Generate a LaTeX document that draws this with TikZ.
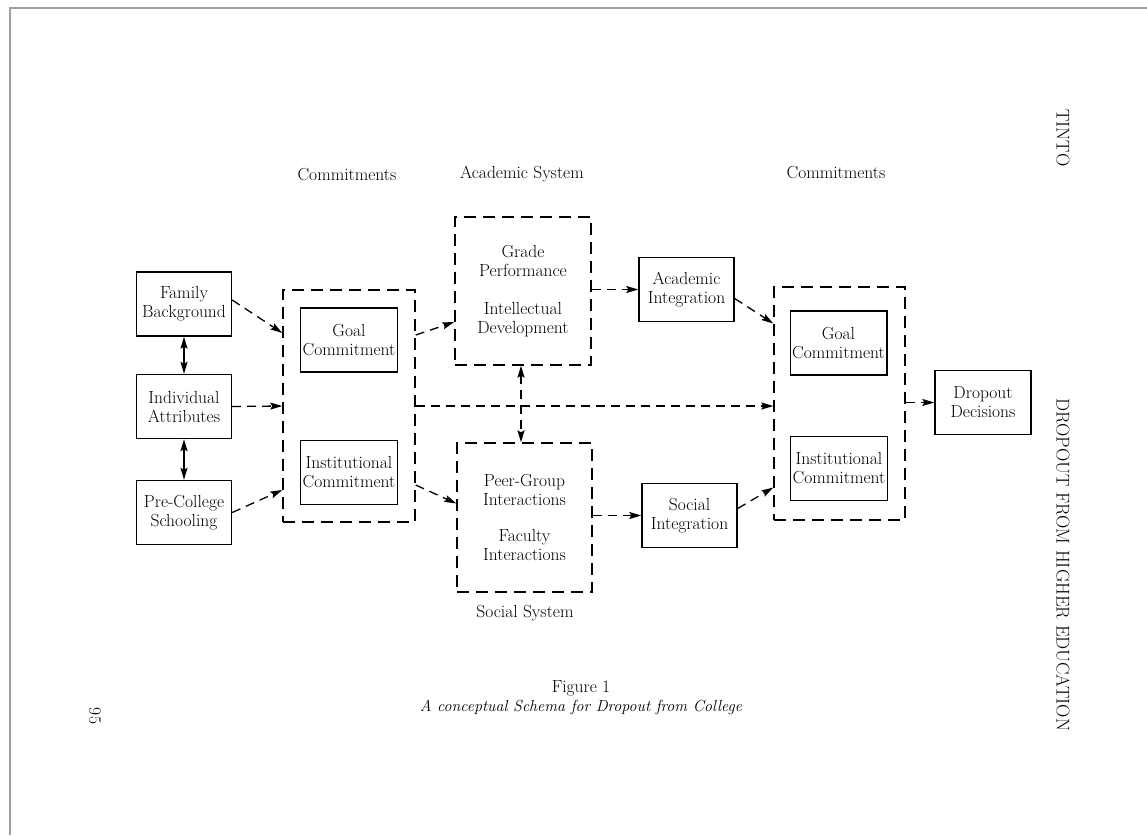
\documentclass[tikz,border=0pt]{standalone}
\usepackage{tikz}
\usetikzlibrary{arrows.meta}

\begin{document}
\begin{tikzpicture}[x=1pt,y=-1pt,
    >={Stealth[length=12pt,width=7pt,inset=2pt]},
    font=\fontsize{17.5}{19}\selectfont,
    box/.style={draw,line width=1.4pt,align=center,inner sep=2pt,
        minimum width=95pt,minimum height=64pt},
    dbox/.style={draw,line width=1.4pt,dash pattern=on 12pt off 7pt},
    darr/.style={->,line width=1.3pt,dash pattern=on 9pt off 6pt},
    sarr/.style={<->,line width=1.3pt}]
    \useasboundingbox (0,0) rectangle (1147,835);
    % 页面边框
    \draw[gray!75,line width=1.5pt] (10,835) -- (10,8) -- (1147,8);

    % 背景因素
    \node[box] (fam) at (184,304) {Family\\Background};
    \node[box] (ind) at (184,406.5) {Individual\\Attributes};
    \node[box] (pre) at (184,512.5) {Pre-College\\Schooling};

    % 承诺（左）
    \node (lhead) at (347,175) {Commitments};
    \node[dbox,minimum width=132pt,minimum height=232pt] (lcom) at (349,406) {};
    \node[box,minimum width=96pt] (lgoal) at (349,340) {Goal\\Commitment};
    \node[box,minimum width=96pt] (linst) at (349,472.5) {Institutional\\Commitment};

    % 学术系统与社会系统
    \node (ahead) at (522,174) {Academic System};
    \node[dbox,align=center,minimum width=136pt,minimum height=148pt] (acad) at (523,291)
        {Grade\\Performance\\[19pt]Intellectual\\Development};
    \node[dbox,align=center,minimum width=135pt,minimum height=149pt] (soc) at (524.5,517.5)
        {Peer-Group\\Interactions\\[17pt]Faculty\\Interactions};
    \node (shead) at (525,613) {Social System};

    \node[box] (acint) at (686.5,289.5) {Academic\\Integration};
    \node[box] (soint) at (689.5,515.5) {Social\\Integration};

    % 承诺（右）
    \node (rhead) at (836,173) {Commitments};
    \node[dbox,minimum width=131pt,minimum height=233pt] (rcom) at (839.5,403.5) {};
    \node[box] (rgoal) at (838.5,343) {Goal\\Commitment};
    \node[box] (rinst) at (839,468.5) {Institutional\\Commitment};

    \node[box,minimum width=96pt] (drop) at (983,402.5) {Dropout\\Decisions};

    % 箭头
    \draw[sarr] (fam.south) -- (ind.north);
    \draw[sarr] (ind.south) -- (pre.north);
    \draw[darr] ([yshift=4pt]fam.east) -- ([yshift=73pt]lcom.west);
    \draw[darr] (ind.east) -- (lcom.west);
    \draw[darr] (pre.east) -- ([yshift=-84pt]lcom.west);
    \draw[darr] ([yshift=71pt]lcom.east) -- ([yshift=-31pt]acad.west);
    \draw[darr] ([yshift=-79pt]lcom.east) -- ([yshift=14pt]soc.west);
    \draw[darr] (lcom.east) -- (lcom.east -| rcom.west);
    \draw[darr,<->] ([xshift=-2pt]acad.south) -- ([xshift=-2pt]acad.south |- soc.north);
    \draw[darr] (acad.east |- acint.west) -- (acint.west);
    \draw[darr] (soc.east |- soint.west) -- (soint.west);
    \draw[darr] ([yshift=-9pt]acint.east) -- ([yshift=80pt]rcom.west);
    \draw[darr] ([yshift=7pt]soint.east) -- ([yshift=-84pt]rcom.west);
    \draw[darr] (rcom.east |- drop.west) -- (drop.west);

    % 图题与页眉
    \node (fig) at (581,688) {Figure 1};
    \node[font=\fontsize{16}{19}\selectfont\itshape] (cap) at (581,707) {A conceptual Schema for Dropout from College};
    \node[rotate=-90] (pnum) at (95,716) {95};
    \node[rotate=-90,font=\fontsize{18.5}{20}\selectfont] (auth) at (1063,138) {TINTO};
    \node[rotate=-90,font=\fontsize{18.5}{20}\selectfont] (rtitle) at (1063,564.5) {DROPOUT FROM HIGHER EDUCATION};
\end{tikzpicture}
\end{document}
